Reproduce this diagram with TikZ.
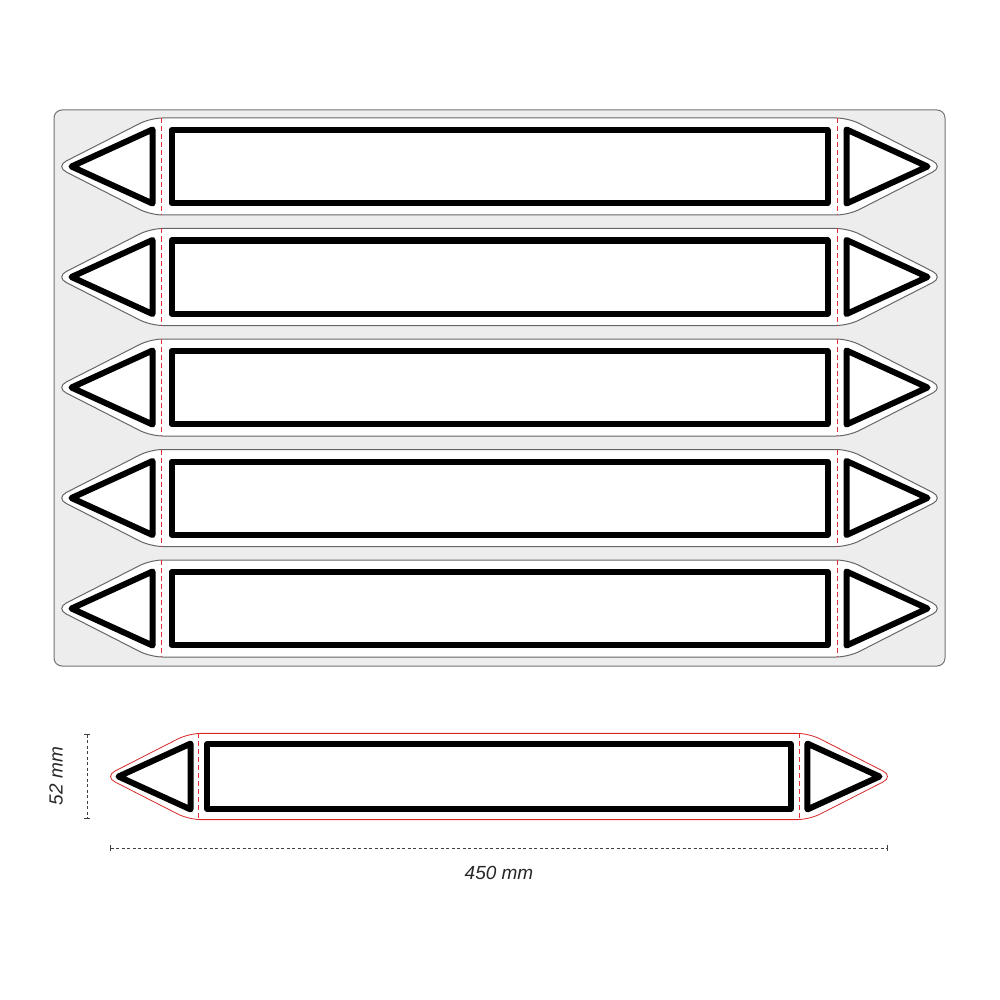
\documentclass[tikz,border=0pt]{standalone}
\usepackage{fontspec}
\setmainfont{Liberation Sans}
\usetikzlibrary{arrows.meta}

\definecolor{foldred}{RGB}{228,45,55}
\definecolor{cutred}{RGB}{215,40,40}

\tikzset{
    sheet/.style={draw=black!55, fill=black!7, line width=1pt, rounded corners=8pt},
    cutgray/.style={draw=black!60, fill=white, line width=1pt, rounded corners=12pt},
    cutredline/.style={draw=cutred, fill=white, line width=0.8pt, rounded corners=12pt},
    foldline/.style={draw=foldred, line width=1.3pt, dash pattern=on 5pt off 3pt},
    frame/.style={draw=black, line width=6pt, line join=round},
    dimline/.style={draw=black!75, line width=0.8pt, dash pattern=on 3pt off 2.5pt},
    dimtext/.style={text=black!85, font=\fontsize{19}{22}\selectfont\itshape},
}

% one pipe marker, drawn round its own centre
\newcommand{\pipemarker}[1]{
    \draw[#1] (-444,0) -- (-349,-48.5) -- (349,-48.5) -- (444,0)
        -- (349,48.5) -- (-349,48.5) -- cycle;
    \draw[foldline] (-338,-48.5) -- (-338,48.5);
    \draw[foldline] (338,-48.5) -- (338,48.5);
    \draw[frame] (-328,-36.5) rectangle (328,36.5);
    \draw[frame] (-347,-37) -- (-347,37) -- (-428,0) -- cycle;
    \draw[frame] (347,-37) -- (347,37) -- (428,0) -- cycle;
}

\begin{document}
\begin{tikzpicture}[x=1pt, y=-1pt]
    \useasboundingbox (0,0) rectangle (1000,1000);

    \draw[sheet] (54,110) rectangle (945,666);
    \foreach \row in {0,...,4} {
        \begin{scope}[shift={(499.5,166.5+110.5*\row)}]
            \pipemarker{cutgray}
        \end{scope}
    }

    % single marker with sizes
    \begin{scope}[shift={(499,776.5)}, scale=0.889]
        \pipemarker{cutredline}
    \end{scope}

    \coordinate (h_top) at (87,734);
    \coordinate (h_bot) at (87,819);
    \coordinate (w_left) at (110,848);
    \coordinate (w_right) at (888,848);
    \draw[dimline, {Bar[width=6pt]}-{Bar[width=6pt]}] (h_top) -- (h_bot);
    \draw[dimline, {Bar[width=6pt]}-{Bar[width=6pt]}] (w_left) -- (w_right);

    \node[dimtext, rotate=90] (height) at (56,776) {52 mm};
    \node[dimtext] (width) at (499,873) {450 mm};
\end{tikzpicture}
\end{document}
